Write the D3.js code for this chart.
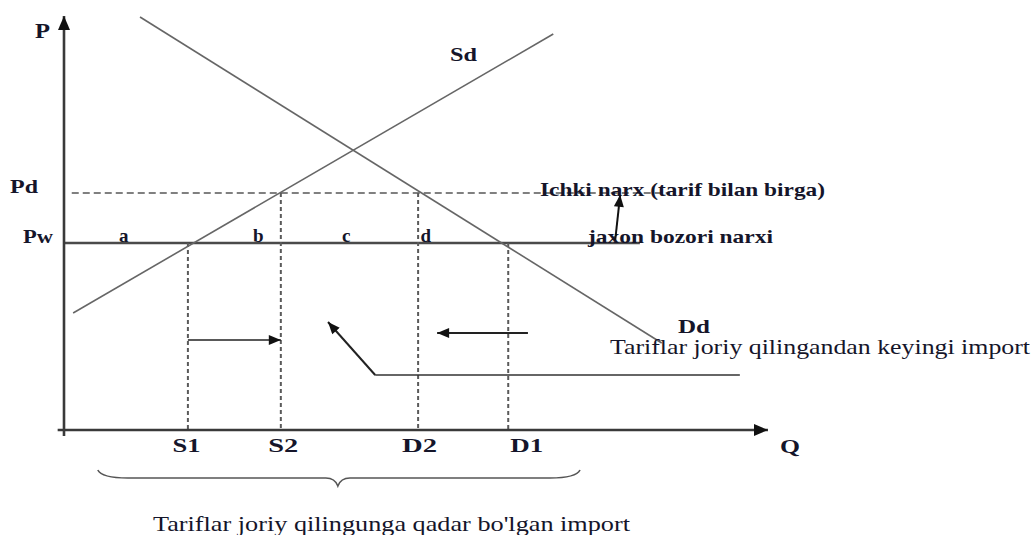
<!DOCTYPE html>
<html>
<head>
<meta charset="utf-8">
<script src="https://cdn.jsdelivr.net/npm/d3@7"></script>
<style>
  html, body { margin: 0; padding: 0; background: #fff; }
  svg { display: block; }
  svg text { font-family: "Liberation Serif", "Times New Roman", Tinos, serif !important; fill: #15152a; }
</style>
</head>
<body>
<svg id="chart" width="1033" height="535" font-family="Liberation Serif, Times New Roman, serif"></svg>
<script>
// Tariff diagram: domestic supply and demand with world price and tariff price
const supplyCurve = [[1.3, 29.25], [69.5, 99]];      // [Q, P] end points of Sd
const demandCurve = [[10.8, 103.25], [84.9, 21.75]];  // [Q, P] end points of Dd
const priceLabels = ["Pd", "Pw"];
const priceValues = [59.25, 46.75];
const quantityLabels = ["S1", "S2", "D2", "D1"];
const quantityValues = [17.6, 30.8, 50.3, 63.1];
const areaLabels = ["a", "b", "c", "d"];
const areaPositions = [8.5, 27.6, 40.1, 51.4];
const pwLineEnd = 81.8;    // Q where the world price line stops
const pdLineRange = [1.1, 86];

const SERIF = "'Liberation Serif', 'Times New Roman', Tinos, serif";
const svg = d3.select("#chart");
const x = d3.scaleLinear().domain([0, 100]).range([64, 768]);
const y = d3.scaleLinear().domain([0, 103]).range([430, 18]);
const line = d3.line().x(d => x(d[0])).y(d => y(d[1]));

// arrow heads
const defs = svg.append("defs");
defs.append("marker")
  .attr("id", "head").attr("viewBox", "0 0 12 10")
  .attr("refX", 12).attr("refY", 5)
  .attr("markerWidth", 13).attr("markerHeight", 10)
  .attr("markerUnits", "userSpaceOnUse").attr("orient", "auto")
  .append("path").attr("d", "M0,0 L12,5 L0,10 Z").attr("fill", "#111");
defs.append("marker")
  .attr("id", "axisHead").attr("viewBox", "0 0 14 12")
  .attr("refX", 14).attr("refY", 6)
  .attr("markerWidth", 15).attr("markerHeight", 12)
  .attr("markerUnits", "userSpaceOnUse").attr("orient", "auto")
  .append("path").attr("d", "M0,0 L14,6 L0,12 Z").attr("fill", "#111");

// price reference lines
const [pd, pw] = priceValues;
svg.append("path")
  .attr("d", line([[pdLineRange[0], pd], [pdLineRange[1], pd]]))
  .attr("stroke", "#808080").attr("stroke-width", 2)
  .attr("stroke-dasharray", "7,4").attr("fill", "none");
svg.append("path")
  .attr("d", line([[0, pw], [pwLineEnd, pw]]))
  .attr("stroke", "#4a4a4a").attr("stroke-width", 2.6).attr("fill", "none");

// dashed drops to the quantity axis
const dropFrom = [pw, pd, pd, pw];
quantityValues.forEach((q, i) => {
  svg.append("path")
    .attr("d", line([[q, dropFrom[i]], [q, 0]]))
    .attr("stroke", "#5a5a5a").attr("stroke-width", 2)
    .attr("stroke-dasharray", "4,3").attr("fill", "none");
});

// supply and demand curves
svg.append("path").attr("d", line(supplyCurve))
  .attr("stroke", "#666").attr("stroke-width", 1.6).attr("fill", "none");
svg.append("path").attr("d", line(demandCurve))
  .attr("stroke", "#666").attr("stroke-width", 1.6).attr("fill", "none");

// axes
svg.append("path").attr("d", line([[-0.9, 0], [100, 0]]))
  .attr("stroke", "#3a3a3a").attr("stroke-width", 2.6).attr("marker-end", "url(#axisHead)");
svg.append("path").attr("d", line([[0, -1.5], [0, 103.5]]))
  .attr("stroke", "#3a3a3a").attr("stroke-width", 2.6).attr("marker-end", "url(#axisHead)");

const xAxis = d3.axisBottom(x).tickValues(quantityValues)
  .tickFormat((d, i) => quantityLabels[i]).tickSize(0).tickPadding(0);
const gx = svg.append("g").attr("transform", `translate(0,${y(0)})`).call(xAxis)
  .attr("font-family", SERIF).attr("font-size", null);
gx.select(".domain").remove();
const qDx = [-2, 2, 1, 18];
const qWidth = [28, 30, 35, 33];
gx.selectAll(".tick text")
  .attr("font-family", SERIF).attr("font-size", 19).attr("font-weight", "bold")
  .attr("y", 22).attr("dy", 0).attr("dx", (d, i) => qDx[i])
  .attr("textLength", (d, i) => qWidth[i]).attr("lengthAdjust", "spacingAndGlyphs");

const yAxis = d3.axisLeft(y).tickValues(priceValues)
  .tickFormat((d, i) => priceLabels[i]).tickSize(0).tickPadding(0);
const gy = svg.append("g").attr("transform", `translate(${x(0)},0)`).call(yAxis)
  .attr("font-family", SERIF).attr("font-size", null);
gy.select(".domain").remove();
const pDx = [-26, -11];
const pWidth = [28, 30];
gy.selectAll(".tick text")
  .attr("font-family", SERIF).attr("font-size", 19).attr("font-weight", "bold")
  .attr("x", (d, i) => pDx[i]).attr("dy", -1)
  .attr("textLength", (d, i) => pWidth[i]).attr("lengthAdjust", "spacingAndGlyphs");

// helper for free text
function label(txt, px, py, size, weight, width, anchor) {
  const t = svg.append("text").attr("x", px).attr("y", py)
    .attr("font-family", SERIF).attr("font-size", size).attr("font-weight", weight)
    .attr("text-anchor", anchor || "start").text(txt);
  if (width) t.attr("textLength", width).attr("lengthAdjust", "spacingAndGlyphs");
  return t;
}

// area letters along the world price
areaLabels.forEach((s, i) => {
  label(s, x(areaPositions[i]), y(pw) - 1, 19, "bold", null, "middle");
});

label("P", 35, 38, 20, "bold", 15);
label("Q", x(100) + 12, y(0) + 23, 19, "bold", 20);
label("Sd", 450, 61, 19, "bold", 27);
label("Dd", 678, 333, 18, "bold", 32);
label("Ichki narx (tarif bilan birga)", 540, 196, 19, "bold", 285);
label("jaxon bozori narxi", 588, 243, 19, "bold", 185);
label("Tariflar joriy qilingandan keyingi import", 610, 354, 21, "normal", 420);
label("Tariflar joriy qilingunga qadar bo'lgan import", 153, 531, 21, "normal", 477);

// arrow: world price raised to domestic price
svg.append("path").attr("d", line([[78.3, 47.5], [79.0, 58.8]]))
  .attr("stroke", "#111").attr("stroke-width", 2).attr("marker-end", "url(#head)");
// arrow: domestic supply grows from S1 to S2
svg.append("path").attr("d", line([[quantityValues[0], 22.5], [quantityValues[1], 22.5]]))
  .attr("stroke", "#222").attr("stroke-width", 1.6).attr("marker-end", "url(#head)");
// arrow: demand shrinks from D1 to D2
svg.append("path").attr("d", line([[65.9, 24.25], [53, 24.25]]))
  .attr("stroke", "#222").attr("stroke-width", 2).attr("marker-end", "url(#head)");
// pointer from the import label to the gap between S2 and D2
svg.append("path").attr("d", line([[96, 13.75], [44.2, 13.75]]))
  .attr("stroke", "#333").attr("stroke-width", 1.5).attr("fill", "none");
svg.append("path").attr("d", line([[44.2, 13.75], [37.5, 27]]))
  .attr("stroke", "#222").attr("stroke-width", 2).attr("marker-end", "url(#head)");

// brace under the pre-tariff import range
const bL = x(4.8), bR = x(73.3), bM = x(38.9);
const bTop = y(-10), bMid = y(-12), bTip = y(-14);
svg.append("path")
  .attr("d", `M${bL},${bTop} Q${bL + 4},${bMid} ${bL + 30},${bMid} L${bM - 12},${bMid} Q${bM - 3},${bMid} ${bM},${bTip} Q${bM + 3},${bMid} ${bM + 12},${bMid} L${bR - 30},${bMid} Q${bR - 4},${bMid} ${bR},${bTop}`)
  .attr("stroke", "#555").attr("stroke-width", 1.6).attr("fill", "none");
</script>
</body>
</html>
